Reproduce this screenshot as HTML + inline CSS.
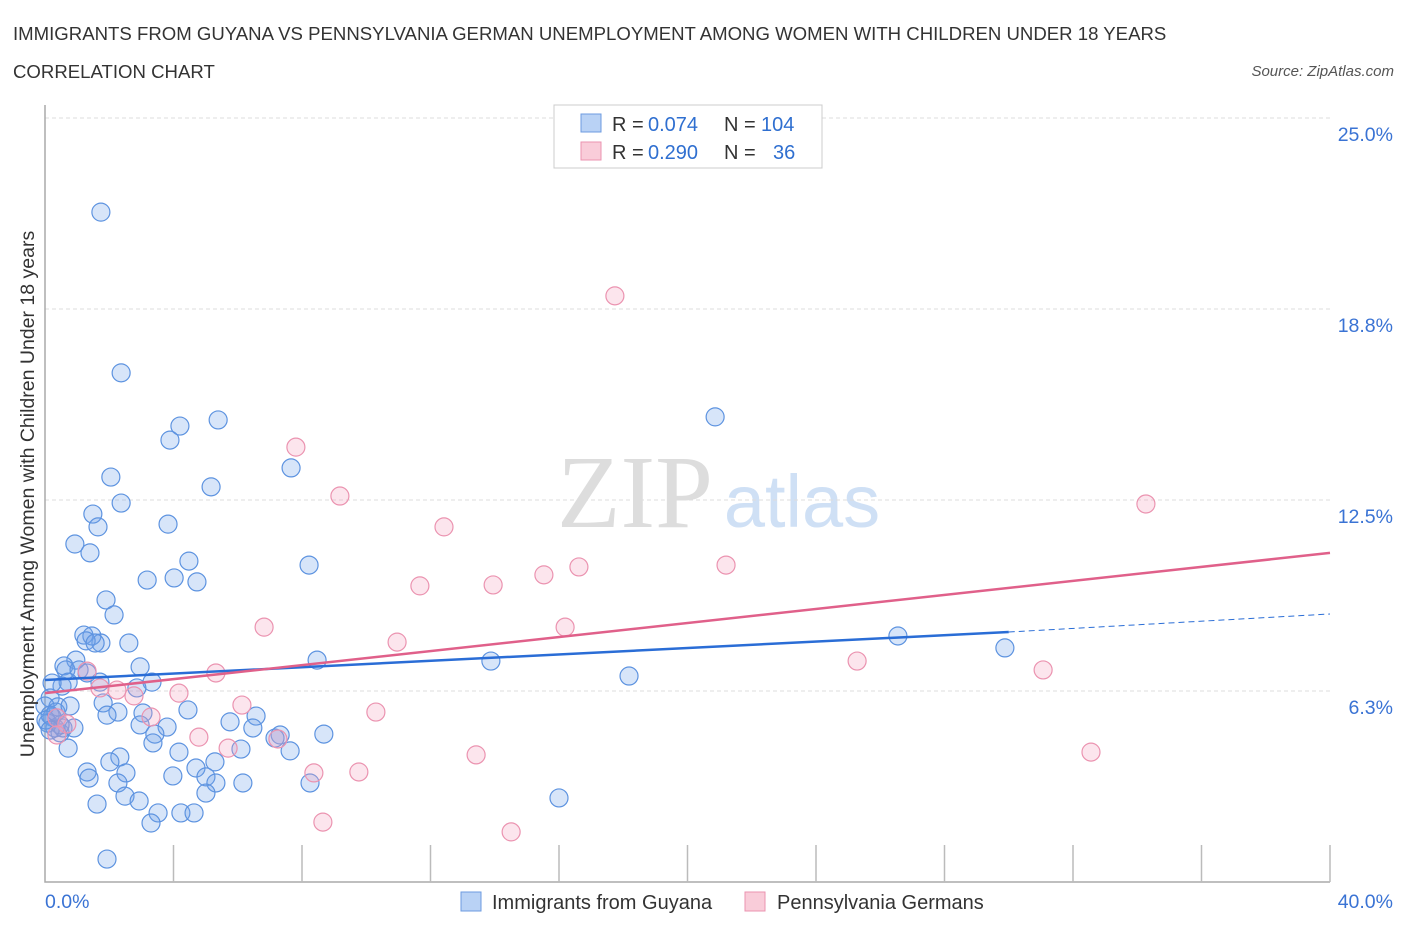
<!DOCTYPE html>
<html><head><meta charset="utf-8"><style>
body{margin:0;background:#fff;font-family:"Liberation Sans",sans-serif}
</style></head><body>
<svg id="c" width="1406" height="930" xmlns="http://www.w3.org/2000/svg">
<text x="13" y="40" font-size="18.6" fill="#333">IMMIGRANTS FROM GUYANA VS PENNSYLVANIA GERMAN UNEMPLOYMENT AMONG WOMEN WITH CHILDREN UNDER 18 YEARS</text>
<text x="13" y="78" font-size="18.6" fill="#333">CORRELATION CHART</text>
<text x="1394" y="76" font-size="15" fill="#555" font-style="italic" text-anchor="end">Source: ZipAtlas.com</text>
<text x="635" y="527" font-size="104" font-family="Liberation Serif,serif" fill="#ddd" text-anchor="middle">ZIP</text>
<text x="802" y="527" font-size="74" fill="#cfe0f5" text-anchor="middle">atlas</text>
<g id="grid"></g><g id="axes"></g><g id="pts"></g><g id="lines"></g>
<text transform="translate(34,494) rotate(-90)" font-size="19.5" fill="#333" text-anchor="middle">Unemployment Among Women with Children Under 18 years</text>
<g font-size="20" fill="#333">
<rect x="554" y="105" width="268" height="63" fill="#fff" stroke="#ccc"/>
<rect x="581" y="114" width="20" height="18" fill="#b9d2f5" stroke="#6d9be0"/>
<rect x="581" y="142" width="20" height="18" fill="#f9ccd9" stroke="#eb93b0"/>
<text x="612" y="131">R =</text><text x="648" y="131" fill="#2f6fd0">0.074</text>
<text x="724" y="131">N =</text><text x="761" y="131" fill="#2f6fd0">104</text>
<text x="612" y="159">R =</text><text x="648" y="159" fill="#2f6fd0">0.290</text>
<text x="724" y="159">N =</text><text x="773" y="159" fill="#2f6fd0">36</text>
</g>
<g>
<rect x="461" y="892" width="20" height="19" fill="#b9d2f5" stroke="#6d9be0"/>
<text x="492" y="909" font-size="20" fill="#333">Immigrants from Guyana</text>
<rect x="745" y="892" width="20" height="19" fill="#f9ccd9" stroke="#eb93b0"/>
<text x="777" y="909" font-size="20" fill="#333">Pennsylvania Germans</text>
</g>
</svg>
<script>
const blueX=[1.74,2.37,20.86,5.39,4.20,3.89,7.66,2.05,5.17,2.37,1.49,1.65,3.83,0.93,1.40,4.48,8.22,3.18,4.02,4.73,1.90,2.15,1.74,2.61,1.21,1.46,1.28,1.56,26.55,29.88,0.96,0.59,8.47,13.88,2.96,0.65,1.06,1.31,0.72,0.53,1.71,3.33,2.86,18.18,0.22,0.16,1.81,0.40,0,0.22,2.27,1.93,4.45,3.05,6.57,5.76,2.96,3.80,6.47,0.31,0.47,0.09,0.56,0.90,3.42,3.36,7.32,7.16,8.68,0.72,6.10,4.17,7.63,2.33,5.29,2.02,4.70,1.31,1.37,2.52,3.98,5.01,5.32,2.27,6.16,8.25,2.49,2.93,5.01,1.62,16.0,3.52,4.23,4.64,3.30,1.93,0.16,0.03,0.47,0.16,0.34,0.78];
const blueY=[21.92,16.66,15.22,15.12,14.92,14.46,13.55,13.25,12.93,12.40,12.04,11.62,11.71,11.06,10.77,10.50,10.37,9.88,9.95,9.82,9.23,8.74,7.82,7.82,8.08,8.05,7.89,7.82,8.05,7.66,7.26,7.07,7.26,7.23,7.04,6.94,6.94,6.84,6.54,6.41,6.54,6.54,6.35,6.74,6.51,6.02,5.86,5.73,5.76,5.40,5.56,5.46,5.63,5.53,5.43,5.24,5.14,5.07,5.04,5.04,4.88,5.20,5.04,5.04,4.84,4.55,4.81,4.71,4.84,4.38,4.35,4.25,4.29,4.09,3.93,3.93,3.73,3.60,3.40,3.57,3.47,3.44,3.24,3.24,3.24,3.24,2.81,2.65,2.91,2.55,2.75,2.26,2.26,2.26,1.93,0.75,5.46,5.30,5.14,4.97,5.56,5.76];
const pinkX=[17.74,7.81,9.18,34.27,12.42,16.62,21.20,15.53,11.67,13.95,6.82,16.19,10.96,25.28,31.07,1.31,5.32,2.24,4.17,6.13,1.71,2.77,3.30,10.30,0.37,0.68,5.70,4.79,7.25,13.42,32.56,8.37,9.77,8.65,14.51,0.37];
const pinkY=[19.18,14.23,12.63,12.37,11.62,10.31,10.37,10.05,9.69,9.72,8.34,8.34,7.85,7.23,6.94,6.90,6.84,6.28,6.18,5.79,6.35,6.09,5.40,5.56,5.37,5.17,4.38,4.74,4.68,4.16,4.25,3.57,3.60,1.96,1.64,4.81];
const yTicks=[25.0,18.8,12.5,6.3];
const yTickVals=[25,18.75,12.5,6.25];
const xTickVals=[0,4,8,12,16,20,24,28,32,36,40];
const blueLine=[6.61,8.18,8.77]; // at x=0, 30, 40
const pinkLine=[6.18,10.77]; // at x=0, 40
const X=v=>45+v*32.125, Y=v=>882-v*30.56;
const NS="http://www.w3.org/2000/svg";
function mk(p,t,a){const e=document.createElementNS(NS,t);for(const k in a)e.setAttribute(k,a[k]);document.getElementById(p).appendChild(e);return e;}
yTickVals.forEach((v,i)=>{
 const g=mk('grid','line',{x1:45,x2:1330,y1:Y(v),y2:Y(v),stroke:'#ddd','stroke-dasharray':'4,3'});
 
 
 const t=mk('grid','text',{x:1393,y:Y(v)+23,'font-size':19.5,fill:'#3a73d4','text-anchor':'end'});t.textContent=yTicks[i].toFixed(1)+'%';
 
 
});
const ax=mk('axes','path',{d:'M45,105V882H1330',fill:'none',stroke:'#aaa','stroke-width':1.5});


xTickVals.slice(1).forEach(v=>{const l=mk('axes','line',{x1:X(v),x2:X(v),y1:845,y2:882,stroke:'#bbb','stroke-width':1.5});
 
 });
[['0.0%',45,'start'],['40.0%',1393,'end']].forEach(a=>{const t=mk('axes','text',{x:a[1],y:908,'font-size':19.5,fill:'#3a73d4','text-anchor':a[2]});t.textContent=a[0];
 
 });
blueX.forEach((v,i)=>{const c=mk('pts','circle',{cx:X(v),cy:Y(blueY[i]),r:9,fill:'rgba(110,160,235,0.28)',stroke:'#5d93e0','stroke-width':1.2});
 
 });
pinkX.forEach((v,i)=>{const c=mk('pts','circle',{cx:X(v),cy:Y(pinkY[i]),r:9,fill:'rgba(245,160,190,0.28)',stroke:'#eb93b0','stroke-width':1.2});
 
 });
const b1=mk('lines','line',{x1:X(0),y1:Y(blueLine[0]),x2:X(30),y2:Y(blueLine[1]),stroke:'#2a6dd6','stroke-width':2.5});


const b2=mk('lines','line',{x1:X(30),y1:Y(blueLine[1]),x2:X(40),y2:Y(blueLine[2]),stroke:'#2a6dd6','stroke-width':1,'stroke-dasharray':'6,4'});


const p1=mk('lines','line',{x1:X(0),y1:Y(pinkLine[0]),x2:X(40),y2:Y(pinkLine[1]),stroke:'#e0608a','stroke-width':2.5});


</script>
</body></html>
